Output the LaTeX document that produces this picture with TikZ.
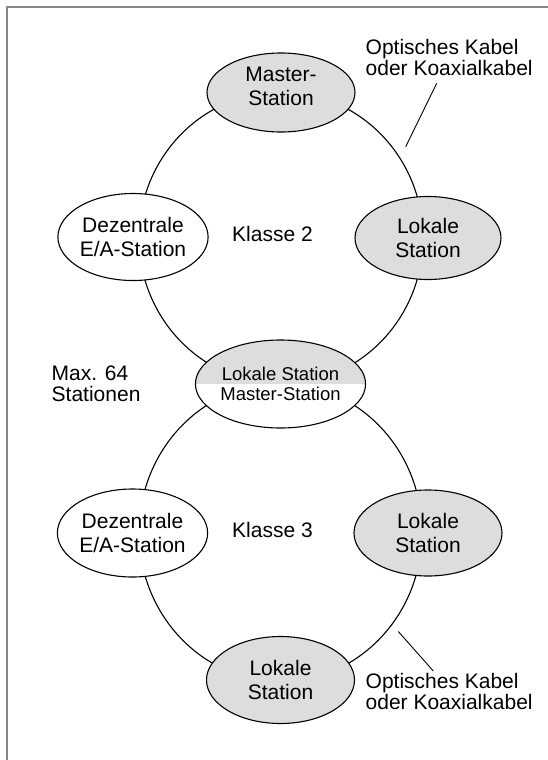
\documentclass[tikz,border=0pt]{standalone}
\usepackage{fontspec}
\setmainfont{Liberation Sans}
\usetikzlibrary{shapes.geometric,positioning,backgrounds}
\definecolor{stationgrey}{RGB}{221,221,221}
\definecolor{framegrey}{RGB}{135,135,135}

\begin{document}
\begin{tikzpicture}[
    %–––– GLOBAL STYLE TWEAKS ––––
    x=1pt, y=-1pt,                                   % pixel grid, y downwards
    font=\fontsize{21}{24.5}\selectfont,
    station/.style = {ellipse, draw=black, line width=1.1pt,
                      fill=white, align=center,
                      minimum width=148pt,
                      minimum height=86pt,           % default station size
                      inner sep=0pt},
    lokal/.style = {station, fill=stationgrey},      % grey stations
    ringline/.style = {draw=black, line width=1.1pt},
    plainlabel/.style = {anchor=north west, align=left, inner sep=0pt,
                         font=\fontsize{21}{21.5}\selectfont},
    leader/.style = {line width=0.9pt},
]
\useasboundingbox (0,0) rectangle (548,760);

%–––– FRAME ––––
\draw[framegrey, line width=1.3pt] (7,760) -- (7,7) -- (548,7);

%–––– RING KLASSE 2 ––––
\coordinate (ring2) at (281,238);

\node (master2)  [lokal, minimum height=79pt, text depth=12pt] at (281,92.5) {Master-\\Station};

\node (dez2)     [station, minimum height=87pt] at (133,237) {Dezentrale\\E/A-Station};

\node (lokal2)   [lokal, minimum width=146pt, minimum height=83pt] at (428,238) {Lokale\\Station};

\node (klasse2)  [anchor=base, inner sep=0pt] at (272.5,241.7) {Klasse 2};

%–––– COUPLING STATION ––––
\node (mitte)    [station, minimum height=88pt,
                  font=\fontsize{18.5}{19.3}\selectfont,
                  path picture={\fill[stationgrey] (path picture bounding box.north west)
                                rectangle (path picture bounding box.east);}]
                 at (280.5,384) {Lokale Station\\Master-Station};

%–––– RING KLASSE 3 ––––
\coordinate (ring3) at (280.5,532.5);

\node (dez3)     [station, minimum height=88pt] at (132.5,533) {Dezentrale\\E/A-Station};

\node (lokal3)   [lokal] at (428,533) {Lokale\\Station};

\node (lokal4)   [lokal, minimum height=87pt] at (280.5,680) {Lokale\\Station};

\node (klasse3)  [anchor=base, inner sep=0pt] at (272.5,537.3) {Klasse 3};

%–––– SIDE LABELS ––––
\node (kabel2)   [plainlabel] at (365.5,39)   {Optisches Kabel\\oder Koaxialkabel};
\node (kabel3)   [plainlabel] at (365.5,673)  {Optisches Kabel\\oder Koaxialkabel};
\node (anzahl)   [plainlabel] at (51.5,365.5) {Max. 64\\Stationen};

\coordinate (k2a) at (436.7,83.3);
\coordinate (k2b) at (405.7,146.7);
\coordinate (k3a) at (398.3,631.5);
\coordinate (k3b) at (433.3,671);

%–––– LEADERS ––––
\foreach \a/\b in {k2a/k2b, k3a/k3b}
  \draw[leader] (\a) -- (\b);

%–––– RINGS (behind the stations) ––––
\begin{scope}[on background layer]
  \draw[ringline] (ring2) ellipse [x radius=142, y radius=146];
  \draw[ringline] (ring3) ellipse [x radius=141.5, y radius=149];
\end{scope}
\end{tikzpicture}
\end{document}
